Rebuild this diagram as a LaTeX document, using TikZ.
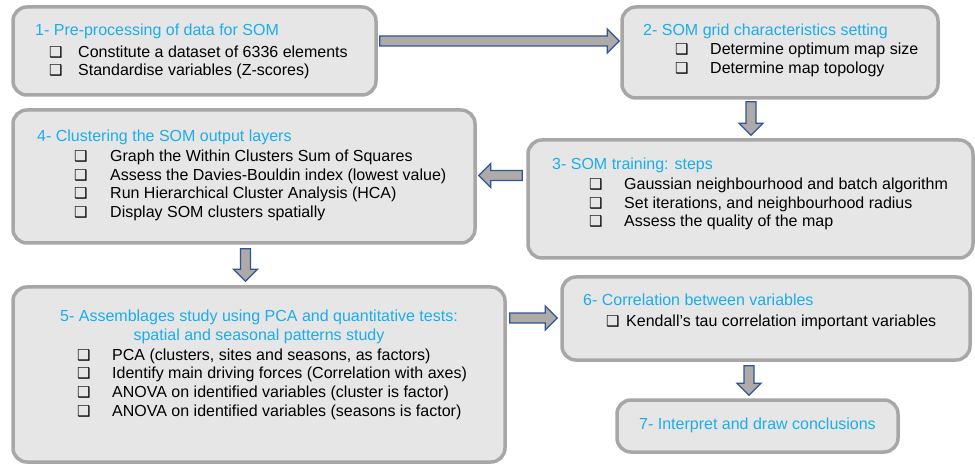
\documentclass[tikz,border=0pt]{standalone}
\usepackage{fontspec}
\setmainfont{Liberation Sans}
\newfontfamily\dejavu{DejaVu Sans}
\usetikzlibrary{calc}
\definecolor{boxborder}{HTML}{A9A6A6}
\definecolor{boxfill}{HTML}{E6E6E6}
\definecolor{titleblue}{HTML}{1AADEA}
\definecolor{arrowfill}{HTML}{AEAAA8}
\definecolor{arrowline}{HTML}{2F5597}
\newcommand\cbx{{\dejavu\fontsize{15}{15}\selectfont ❑}}
\newcommand\arrowR[2]{\draw[barrow] let \p1=(#1),\p2=(#2) in (\x1,\y1+5pt) -- (\x2-12pt,\y1+5pt) -- (\x2-12pt,\y1+12pt) -- (\x2,\y1) -- (\x2-12pt,\y1-12pt) -- (\x2-12pt,\y1-5pt) -- (\x1,\y1-5pt) -- cycle;}
\newcommand\arrowL[2]{\draw[barrow] let \p1=(#1),\p2=(#2) in (\x1,\y1+5pt) -- (\x2+12pt,\y1+5pt) -- (\x2+12pt,\y1+12pt) -- (\x2,\y1) -- (\x2+12pt,\y1-12pt) -- (\x2+12pt,\y1-5pt) -- (\x1,\y1-5pt) -- cycle;}
\newcommand\arrowD[2]{\draw[barrow] let \p1=(#1),\p2=(#2) in (\x1-5pt,\y1) -- (\x1-5pt,\y2+12pt) -- (\x1-12pt,\y2+12pt) -- (\x1,\y2) -- (\x1+12pt,\y2+12pt) -- (\x1+5pt,\y2+12pt) -- (\x1+5pt,\y1) -- cycle;}
\begin{document}
\begin{tikzpicture}[x=1pt,y=-1pt,
  box/.style={draw=boxborder, fill=boxfill, line width=3.5pt, rounded corners=14pt, inner sep=0},
  txt/.style={anchor=base west, inner sep=0, font=\fontsize{16}{19}\selectfont},
  ttl/.style={txt, text=titleblue},
  barrow/.style={draw=arrowline, fill=arrowfill, line width=1.3pt, line join=miter}]
\useasboundingbox (0,0) rectangle (975,465);
% boxes
\node[box, minimum width=363pt, minimum height=88pt] (b1) at (194.5,51) {};
\node[box, minimum width=316pt, minimum height=91pt] (b2) at (780,52.5) {};
\node[box, minimum width=445pt, minimum height=118pt] (b3) at (750.5,199) {};
\node[box, minimum width=462pt, minimum height=133pt] (b4) at (244,176.5) {};
\node[box, minimum width=492pt, minimum height=175pt] (b5) at (259,374.5) {};
\node[box, minimum width=408pt, minimum height=83pt] (b6) at (766,318.5) {};
\node[box, minimum width=281pt, minimum height=52pt] (b7) at (757.5,426) {};
% box 1
\node[ttl] (t1) at (35,36) {1- Pre-processing of data for SOM};
\node[txt] (t1a) at (49,57.3) {\makebox[29pt][l]{\cbx}Constitute a dataset of 6336 elements};
\node[txt] (t1b) at (49,76) {\makebox[29pt][l]{\cbx}Standardise variables (Z-scores)};
% box 2
\node[ttl] (t2) at (643,36) {2- SOM grid characteristics setting};
\node[txt] (t2a) at (675,54.3) {\makebox[35pt][l]{\cbx}Determine optimum map size};
\node[txt] (t2b) at (675,73.3) {\makebox[35pt][l]{\cbx}Determine map topology};
% box 3
\node[ttl] (t3) at (552,170) {3- SOM training: steps};
\node[txt] (t3a) at (589,190) {\makebox[35pt][l]{\cbx}Gaussian neighbourhood and batch algorithm};
\node[txt] (t3b) at (589,208.3) {\makebox[35pt][l]{\cbx}Set iterations, and neighbourhood radius};
\node[txt] (t3c) at (589,226.7) {\makebox[35pt][l]{\cbx}Assess the quality of the map};
% box 4
\node[ttl] (t4) at (37,141.7) {4- Clustering the SOM output layers};
\node[txt] (t4a) at (74,161.7) {\makebox[36pt][l]{\cbx}Graph the Within Clusters Sum of Squares};
\node[txt] (t4b) at (74,180.3) {\makebox[36pt][l]{\cbx}Assess the Davies-Bouldin index (lowest value)};
\node[txt] (t4c) at (74,199) {\makebox[36pt][l]{\cbx}Run Hierarchical Cluster Analysis (HCA)};
\node[txt] (t4d) at (74,218) {\makebox[36pt][l]{\cbx}Display SOM clusters spatially};
% box 5
\node[ttl, anchor=base] (t5) at (259,321) {5- Assemblages study using PCA and quantitative tests:};
\node[ttl, anchor=base] (t5l) at (259,340) {spatial and seasonal patterns study};
\node[txt] (t5a) at (77,360) {\makebox[35pt][l]{\cbx}PCA (clusters, sites and seasons, as factors)};
\node[txt] (t5b) at (77,378.5) {\makebox[35pt][l]{\cbx}Identify main driving forces (Correlation with axes)};
\node[txt] (t5c) at (77,397.3) {\makebox[35pt][l]{\cbx}ANOVA on identified variables (cluster is factor)};
\node[txt] (t5d) at (77,416) {\makebox[35pt][l]{\cbx}ANOVA on identified variables (seasons is factor)};
% box 6
\node[ttl] (t6) at (583,305.7) {6- Correlation between variables};
\node[txt] (t6a) at (606,326) {\makebox[20pt][l]{\cbx}Kendall’s tau correlation important variables};
% box 7
\node[ttl, anchor=base] (t7) at (757.5,429.3) {7- Interpret and draw conclusions};
% arrow end points
\coordinate (a12s) at ($(b1.east)+(2,-10)$);
\coordinate (a12t) at ($(b2.west)+(-1,-11.5)$);
\coordinate (a23s) at ($(b2.south)+(-29,2)$);
\coordinate (a23t) at ($(b3.north)+(0.5,-3)$);
\coordinate (a34s) at ($(b3.west)+(-4,-23.5)$);
\coordinate (a34t) at ($(b4.east)+(2,-1)$);
\coordinate (a45s) at ($(b4.south)+(1.5,4)$);
\coordinate (a45t) at ($(b5.north)+(-13.5,-4)$);
\coordinate (a56s) at ($(b5.east)+(3,-56.5)$);
\coordinate (a56t) at ($(b6.west)+(-3,-0.5)$);
\coordinate (a67s) at ($(b6.south)+(-17,4)$);
\coordinate (a67t) at ($(b7.north)+(-8.5,-3)$);
% arrows
\arrowR{a12s}{a12t}
\arrowD{a23s}{a23t}
\arrowL{a34s}{a34t}
\arrowD{a45s}{a45t}
\arrowR{a56s}{a56t}
\arrowD{a67s}{a67t}
\end{tikzpicture}
\end{document}
